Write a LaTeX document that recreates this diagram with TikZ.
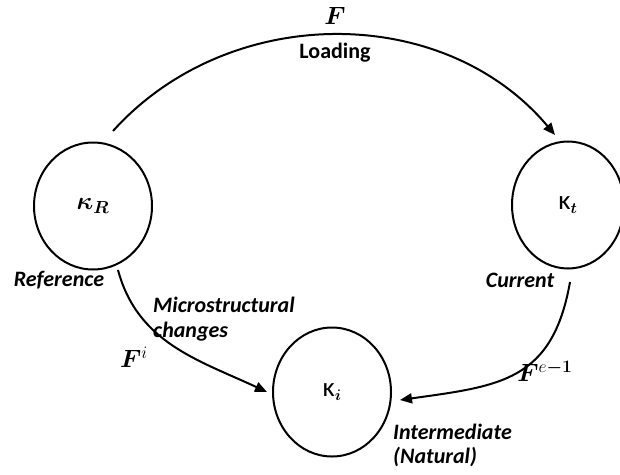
\RequirePackage{fix-cm}
\documentclass[tikz,border=0pt]{standalone}
\usepackage{amsmath}
\usepackage{bm}
\usepackage{fontspec}
\newfontfamily\calibri{Carlito}
\usepackage{tikz}
\usetikzlibrary{arrows.meta, shapes.geometric}

\def\labelsize{\fontsize{22}{26}\selectfont}
\def\kapsize{\fontsize{27}{30}\selectfont}
\def\mapsize{\fontsize{25}{28}\selectfont}

\begin{document}
\begin{tikzpicture}[x=1pt, y=1pt, font=\labelsize,
    config/.style={ellipse, draw, line width=2pt, inner sep=0pt, minimum width=118pt, minimum height=127pt},
    flow/.style={line width=2pt, -{Triangle[length=12pt, width=10pt]}},
    tag/.style={font=\labelsize\calibri\bfseries\itshape, inner sep=0pt},
    map/.style={font=\mapsize, inner sep=0pt}]

    % Frame of the picture (pixels of the reference)
    \useasboundingbox (0,0) rectangle (620,-474);

    % Configurations
    \node[config] (KR) at (93,-206) {\mapsize$\bm{\kappa_R}$};
    \node[config, minimum width=112pt] (Kt) at (568,-205) {{\kapsize\calibri κ}$_{\bm{t}}$};
    \node[config, minimum height=129pt] (Ki) at (332,-392) {{\kapsize\calibri κ}$_{\bm{i}}$};

    % Free ends of the maps
    \coordinate (loadS) at (113,-131);
    \coordinate (loadE) at (555,-135);
    \coordinate (microS) at (118,-270);
    \coordinate (microE) at (267,-392);
    \coordinate (elastS) at (570,-282);
    \coordinate (elastE) at (400,-400);

    % Maps between the configurations
    \draw[flow] (loadS) to[out=48, in=130] (loadE);
    \draw[flow] (microS) to[out=-75, in=155] (microE);
    \draw[flow] (elastS) to[out=-100, in=8, looseness=1.25] (elastE);

    % Labels of the maps
    \node[map] (Fload) at (335,-16) {$\bm{F}$};
    \node[font=\labelsize\calibri\bfseries, inner sep=0pt] (loading) at (335,-53) {Loading};
    \node[map] (Fi) at (134,-357) {$\bm{F}^i$};
    \node[map] (Fe) at (545,-371) {$\bm{F}^{e\bm{-1}}$};

    % Names of the configurations
    \node[tag] (ref) at (59,-280) {Reference};
    \node[tag] (cur) at (520,-280) {Current};
    \node[tag, anchor=west] (micro) at (153,-305) {Microstructural};
    \node[tag, anchor=west] (chg) at (153,-332) {changes};
    \node[tag, anchor=west] (inter) at (393,-432) {Intermediate};
    \node[tag, anchor=west] (nat) at (393,-457) {(Natural)};
\end{tikzpicture}
\end{document}
